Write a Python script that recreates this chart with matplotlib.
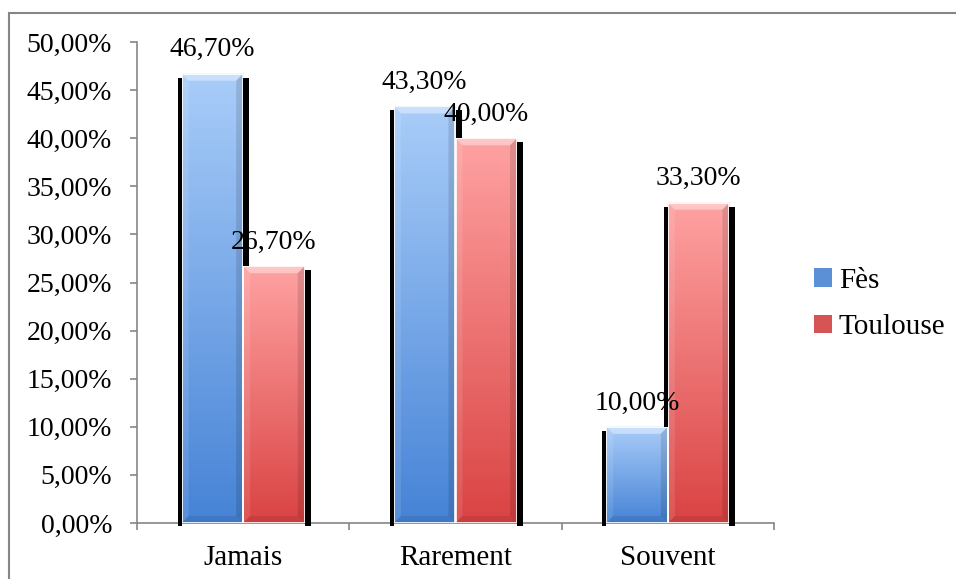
import numpy as np
import matplotlib
matplotlib.use("Agg")
import matplotlib.pyplot as plt
from matplotlib.patches import Rectangle, Polygon, Patch
from matplotlib.colors import LinearSegmentedColormap
from matplotlib.ticker import FuncFormatter, MultipleLocator

# data
categories = ["Jamais", "Rarement", "Souvent"]
series = ["Fès", "Toulouse"]
fes = [46.7, 43.3, 10.0]
toulouse = [26.7, 40.0, 33.3]

plt.rcParams['font.family'] = ['Liberation Serif', 'DejaVu Serif']
fs_num = 20
fs_txt = 21

# top -> bottom colours of each series
grad = {
    "Fès": ("#a9cdf9", "#4683d6"),
    "Toulouse": ("#ffa2a2", "#da4343"),
}
legend_col = {"Fès": "#5b8fd6", "Toulouse": "#d65454"}

def fmt(v):
    return ("%.2f%%" % v).replace(".", ",")

fig = plt.figure(figsize=(9.56, 5.79), dpi=100)
ax = fig.add_axes([137/956, 1 - 523/579, (774 - 137)/956, (523 - 42)/579])

xlim = (-0.5, 2.5)
ylim = (0, 50)
ax.set_xlim(*xlim)
ax.set_ylim(*ylim)

# pixel sizes in data units
px_x = (xlim[1] - xlim[0]) / (774 - 137)
px_y = (ylim[1] - ylim[0]) / (523 - 42)

w = 0.29
x = np.arange(len(categories))
offsets = [-w/2, w/2]

# gradient bars with bevel
for name, vals, off in zip(series, [fes, toulouse], offsets):
    top, bot = grad[name]
    cmap = LinearSegmentedColormap.from_list(name, [bot, top])
    g = np.linspace(0, 1, 256).reshape(-1, 1)
    for xi, v in zip(x, vals):
        x0, x1 = xi + off - w/2, xi + off + w/2
        ax.imshow(g, extent=[x0, x1, 0, v], origin="lower", aspect="auto",
                  cmap=cmap, zorder=2, interpolation="bicubic")
        bx, by = 7*px_x, 7*px_y
        # top bevel highlight
        ax.add_patch(Polygon([(x0, v), (x1, v), (x1 - bx, v - by), (x0 + bx, v - by)],
                             facecolor="white", alpha=0.4, edgecolor="none", zorder=2.1))
        # darker right and bottom edges
        ax.add_patch(Polygon([(x1, v), (x1, 0), (x1 - bx, by), (x1 - bx, v - by)],
                             facecolor="black", alpha=0.12, edgecolor="none", zorder=2.1))
        ax.add_patch(Polygon([(x0, 0), (x1, 0), (x1 - bx, by), (x0 + bx, by)],
                             facecolor="black", alpha=0.08, edgecolor="none", zorder=2.1))
        ax.add_patch(Polygon([(x0, v), (x0, 0), (x0 + bx, by), (x0 + bx, v - by)],
                             facecolor="white", alpha=0.10, edgecolor="none", zorder=2.1))
        ax.add_patch(Rectangle((x0, 0), w, v, facecolor="none", edgecolor="white",
                               linewidth=1.2, zorder=2.2))
        ax.annotate(fmt(v), (xi + off, v), xytext=(0, 12.5), textcoords="offset points",
                    ha="center", va="baseline", fontsize=fs_num, zorder=3)

# black shadow strips on the outer sides of each bar,
# only where no neighbouring bar covers them
sw_l, sw_r = 4*px_x, 6*px_x
for xi, vb, vr in zip(x, fes, toulouse):
    xb0 = xi - w
    xr1 = xi + w
    # left of blue, right of red: down to the axis
    ax.add_patch(Rectangle((xb0 - sw_l, -3*px_y), sw_l, vb - 1*px_y,
                           facecolor="black", edgecolor="none", zorder=4, clip_on=False))
    ax.add_patch(Rectangle((xr1, -3*px_y), sw_r, vr - 1*px_y,
                           facecolor="black", edgecolor="none", zorder=4, clip_on=False))
    # inner sides, visible above the shorter neighbour
    if vb - 4*px_y > vr:
        ax.add_patch(Rectangle((xi, vr), sw_r, vb - 4*px_y - vr,
                               facecolor="black", edgecolor="none", zorder=4))
    if vr - 4*px_y > vb:
        ax.add_patch(Rectangle((xi - sw_l, vb), sw_l, vr - 4*px_y - vb,
                               facecolor="black", edgecolor="none", zorder=4))

ax.set_xlim(*xlim)
ax.set_ylim(*ylim)

# axes styling
for s in ["top", "right"]:
    ax.spines[s].set_visible(False)
for s in ["left", "bottom"]:
    ax.spines[s].set_color("#868686")
    ax.spines[s].set_linewidth(1.2)
    ax.spines[s].set_zorder(1)

ax.yaxis.set_major_locator(MultipleLocator(5))
ax.yaxis.set_major_formatter(FuncFormatter(lambda v, p: fmt(v)))
ax.set_xticks([-0.5, 0.5, 1.5, 2.5])
ax.set_xticklabels([])
ax.set_xticks(x, minor=True)
ax.set_xticklabels(categories, minor=True)
ax.tick_params(axis="x", which="major", length=5, color="#868686", width=1.2)
ax.tick_params(axis="x", which="minor", length=0, labelsize=fs_txt, pad=16)
ax.tick_params(axis="y", length=5, color="#868686", width=1.2, labelsize=fs_num, pad=13)

handles = [Patch(facecolor=legend_col[n], edgecolor="none") for n in series]
fig.legend(handles, series, loc="center left", bbox_to_anchor=(814/956, 1 - 304/579),
           frameon=False, fontsize=fs_txt, handlelength=0.6, handleheight=0.6,
           handletextpad=0.25, labelspacing=0.7, borderpad=0, borderaxespad=0)

# outer chart border
fig.add_artist(Rectangle((9/956, -0.05), 1.2, 1 - 13/579 + 0.05,
                         transform=fig.transFigure, facecolor="none",
                         edgecolor="#868686", linewidth=1.5))

fig.savefig("out.png", dpi=100)
